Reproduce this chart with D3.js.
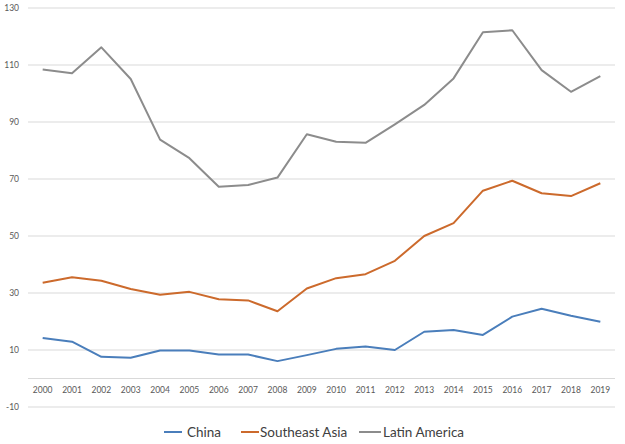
<!DOCTYPE html>
<html><head><meta charset="utf-8">
<script src="https://cdn.jsdelivr.net/npm/d3@7"></script>
<style>body{margin:0;background:#fff;}svg{display:block;}</style>
</head><body>
<svg id="c" width="625" height="444"></svg>
<script>
const years = ["2000","2001","2002","2003","2004","2005","2006","2007","2008","2009","2010","2011","2012","2013","2014","2015","2016","2017","2018","2019"];
const china = [14.2,12.9,7.6,7.3,9.8,9.8,8.4,8.4,6.1,8.2,10.4,11.2,10.0,16.4,17.0,15.3,21.7,24.5,22.0,19.9];
const seAsia = [33.6,35.5,34.3,31.4,29.4,30.4,27.8,27.4,23.6,31.6,35.2,36.6,41.3,50.0,54.5,65.9,69.4,65.0,64.0,68.5];
const latAm = [108.4,107.1,116.2,105.1,83.8,77.3,67.3,67.9,70.5,85.7,83.1,82.7,89.2,96.0,105.3,121.5,122.2,108.2,100.6,106.1];
const yTicks = [-10,10,30,50,70,90,110,130];
const seriesNames = ["China","Southeast Asia","Latin America"];

const series = [
  {name: seriesNames[0], values: china, color: "#4a7ebb"},
  {name: seriesNames[1], values: seAsia, color: "#cc6a2c"},
  {name: seriesNames[2], values: latAm, color: "#8c8c8c"}
];

const svg = d3.select("#c");
const left = 28, right = 615;
const x = d3.scaleBand().domain(years).range([left, right]).padding(0);
const y = d3.scaleLinear().domain([-10, 130]).range([407, 8]);
const font = "Lato, 'Open Sans', sans-serif";

// gridlines
svg.append("g").selectAll("line").data(yTicks).join("line")
  .attr("x1", left).attr("x2", right)
  .attr("y1", d => y(d)).attr("y2", d => y(d))
  .attr("stroke", "#d9d9d9").attr("stroke-width", 1);

// zero axis line
svg.append("line").attr("x1", left).attr("x2", right)
  .attr("y1", y(0)).attr("y2", y(0))
  .attr("stroke", "#d9d9d9").attr("stroke-width", 1);

// y labels
svg.append("g").selectAll("text").data(yTicks).join("text")
  .attr("x", 19).attr("y", d => y(d)).attr("dy", "0.35em")
  .attr("text-anchor", "end").attr("font-family", font).attr("font-size", 8.5)
  .attr("fill", "#595959").text(d => d);

// x labels
svg.append("g").selectAll("text").data(years).join("text")
  .attr("x", d => x(d) + x.bandwidth()/2).attr("y", y(0) + 14)
  .attr("text-anchor", "middle").attr("font-family", font).attr("font-size", 8.5)
  .attr("fill", "#595959").text(d => d);

const line = d3.line().x((d, i) => x(years[i]) + x.bandwidth()/2).y(d => y(d));
svg.append("g").selectAll("path").data(series).join("path")
  .attr("d", d => line(d.values)).attr("fill", "none")
  .attr("stroke", d => d.color).attr("stroke-width", 2)
  .attr("stroke-linejoin", "round");

// legend
const legX = [164, 241, 359];
const lg = svg.append("g").selectAll("g").data(series).join("g")
  .attr("transform", (d, i) => `translate(${legX[i]},432)`);
lg.append("line").attr("x1", 0).attr("x2", d => d.name === "Latin America" ? 22 : 18)
  .attr("stroke", d => d.color).attr("stroke-width", 2);
lg.append("text").attr("x", d => d.name === "Latin America" ? 24 : (d.name === "China" ? 23 : 19))
  .attr("dy", "0.35em").attr("font-family", font).attr("font-size", 13.5)
  .attr("fill", "#404040").text(d => d.name);
</script>
</body></html>
